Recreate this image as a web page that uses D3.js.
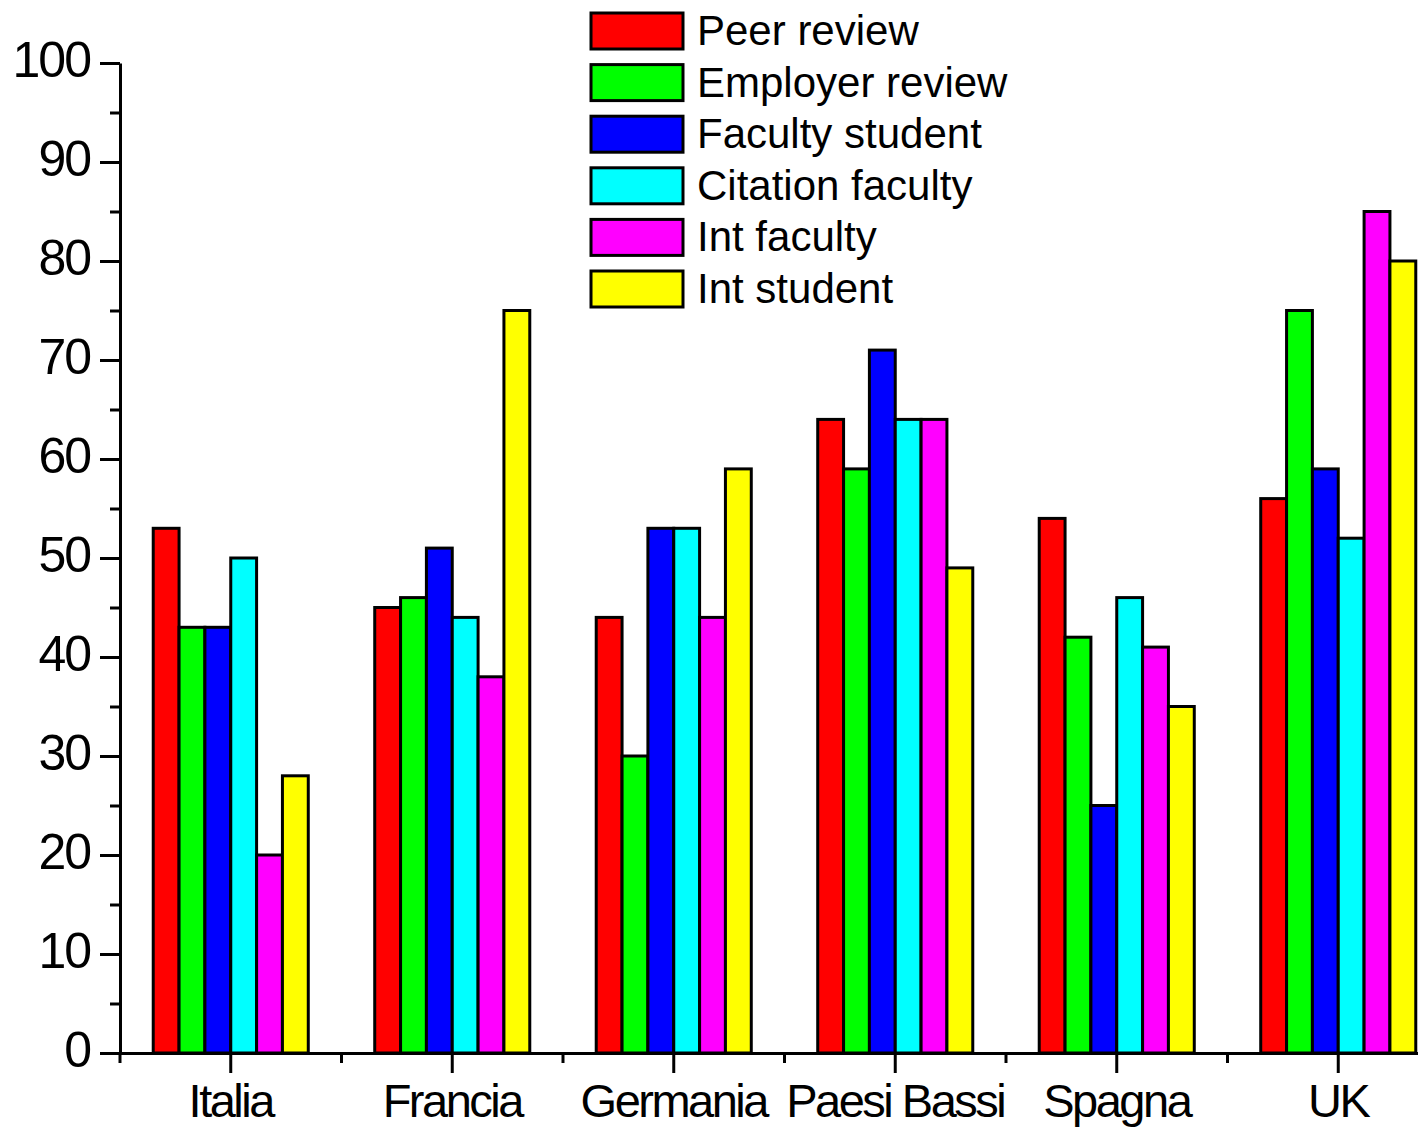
<!DOCTYPE html>
<html>
<head>
<meta charset="utf-8">
<script src="https://cdn.jsdelivr.net/npm/d3@7"></script>
<style>
  body { margin: 0; background: #fff; }
  text { font-family: "Liberation Sans", Arial, sans-serif; fill: #000; }
</style>
</head>
<body>
<svg id="chart"></svg>
<script>
// countries on the x axis
const countries = ["Italia", "Francia", "Germania", "Paesi Bassi", "Spagna", "UK"];
// ranking indicators (one bar each per country)
const indicators = ["Peer review", "Employer review", "Faculty student", "Citation faculty", "Int faculty", "Int student"];
const barColors = ["#ff0000", "#00ff00", "#0000ff", "#00ffff", "#ff00ff", "#ffff00"];

// values read per indicator, in country order
const peerReview      = [53, 45, 44, 64, 54, 56];
const employerReview  = [43, 46, 30, 59, 42, 75];
const facultyStudent  = [43, 51, 53, 71, 25, 59];
const citationFaculty = [50, 44, 53, 64, 46, 52];
const intFaculty      = [20, 38, 44, 64, 41, 85];
const intStudent      = [28, 75, 59, 49, 35, 80];
const series = [peerReview, employerReview, facultyStudent, citationFaculty, intFaculty, intStudent];

const yTicks = [0, 10, 20, 30, 40, 50, 60, 70, 80, 90, 100];
const yMinor = [5, 15, 25, 35, 45, 55, 65, 75, 85, 95];

const W = 1418, H = 1127;
const plotLeft = 120, plotTop = 63, plotBottom = 1053;

// one record per country for the grouped bars
const rows = countries.map((c, i) => {
    const r = {country: c};
    indicators.forEach((k, j) => { r[k] = series[j][i]; });
    return r;
});

const svg = d3.select("#chart").attr("width", W).attr("height", H);

// band step ~221.5px, last band goes past the right edge like the original
const x = d3.scaleBand()
    .domain(countries)
    .range([plotLeft, plotLeft + 6 * 221.5])
    .paddingInner(0.3)
    .paddingOuter(0.15);

const xSub = d3.scaleBand()
    .domain(indicators)
    .range([0, x.bandwidth()]);

const y = d3.scaleLinear()
    .domain([0, 100])
    .range([plotBottom, plotTop]);

const color = d3.scaleOrdinal().domain(indicators).range(barColors);

// bars
svg.append("g")
  .selectAll("g")
  .data(rows)
  .join("g")
  .attr("transform", d => `translate(${x(d.country)},0)`)
  .selectAll("rect")
  .data(d => indicators.map(k => ({key: k, value: d[k]})))
  .join("rect")
  .attr("x", d => xSub(d.key))
  .attr("y", d => y(d.value))
  .attr("width", xSub.bandwidth())
  .attr("height", d => y(0) - y(d.value))
  .attr("fill", d => color(d.key))
  .attr("stroke", "#000")
  .attr("stroke-width", 3);

// y axis, major ticks with labels
const yAxis = svg.append("g")
  .attr("transform", `translate(${plotLeft},0)`)
  .call(d3.axisLeft(y).tickValues(yTicks).tickSize(20).tickSizeOuter(0).tickPadding(10));
yAxis.selectAll("text").style("font-size", "50px").attr("dy", "0.27em").attr("letter-spacing", "-2px");

// y axis minor ticks
svg.append("g")
  .attr("transform", `translate(${plotLeft},0)`)
  .call(d3.axisLeft(y).tickValues(yMinor).tickSize(10).tickFormat(""))
  .select(".domain").remove();

// x axis with ticks at category centres
const xAxis = svg.append("g")
  .attr("transform", `translate(0,${plotBottom})`)
  .call(d3.axisBottom(x).tickSize(20).tickSizeOuter(0));
xAxis.selectAll("text")
  .style("font-size", "47px")
  .attr("y", 64)
  .attr("dy", 0)
  .attr("letter-spacing", "-2.5px");

// minor ticks on the category boundaries
const bounds = d3.range(countries.length + 1).map(i => x.range()[0] + i * x.step());
svg.append("g")
  .selectAll("line")
  .data(bounds)
  .join("line")
  .attr("x1", d => d).attr("x2", d => d)
  .attr("y1", plotBottom).attr("y2", plotBottom + 10)
  .attr("stroke", "#000");

svg.selectAll(".domain, .tick line, g > line").attr("stroke-width", 3);

// legend
const legend = svg.append("g").attr("transform", "translate(591,13)");
indicators.forEach((k, i) => {
    legend.append("rect")
      .attr("y", i * 51.6)
      .attr("width", 92)
      .attr("height", 36)
      .attr("fill", color(k))
      .attr("stroke", "#000")
      .attr("stroke-width", 3);
    legend.append("text")
      .attr("x", 106)
      .attr("y", i * 51.6 + 32)
      .style("font-size", "42px")
      .text(k);
});
</script>
</body>
</html>
